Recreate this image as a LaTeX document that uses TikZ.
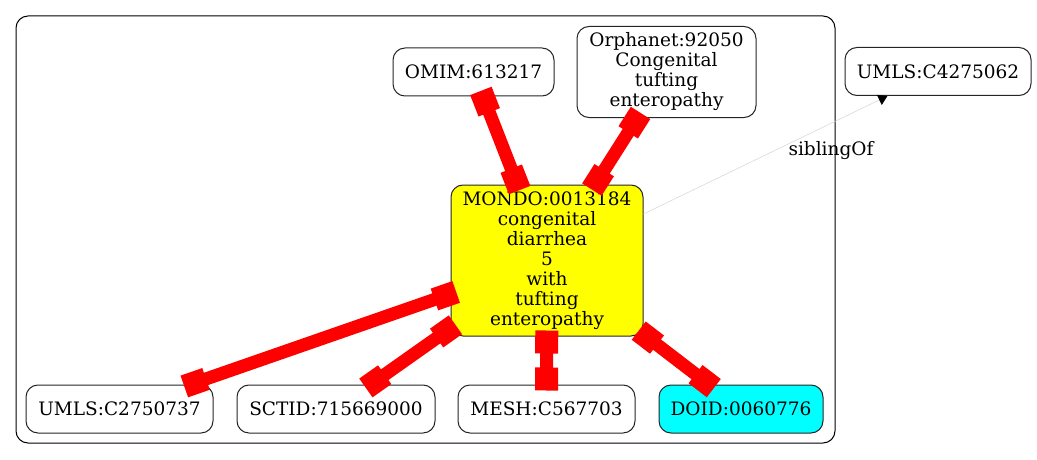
\documentclass[tikz,border=0pt]{standalone}
\usepackage{fontspec}
\setmainfont{DejaVu Serif}
\usetikzlibrary{arrows.meta}
\definecolor{gvyellow}{RGB}{255,255,0}
\definecolor{gvcyan}{RGB}{0,255,255}
\definecolor{gvred}{RGB}{255,0,0}
\newcommand\myfont{\fontsize{18.5}{20}\selectfont}
\begin{document}
\begin{tikzpicture}[x=1pt,y=-1pt,
  box/.style={draw=black!85, line width=1pt, rounded corners=12pt, inner sep=0pt, align=center, font=\myfont, fill=white},
  redge/.style={draw=gvred, line width=13pt, {Square[length=23pt,width=23pt]}-{Square[length=23pt,width=23pt]}, shorten <=-6pt, shorten >=-6pt},
  sib/.style={draw=black!15, line width=0.6pt, -{Triangle[length=9pt,width=11pt,color=black]}},
  lbl/.style={inner sep=0pt, font=\myfont}]
\useasboundingbox (0,0) rectangle (1037,460);
\node[lbl] (sl) at (831,151) {siblingOf};
\node[draw=black, line width=1pt, rounded corners=12pt, minimum width=819pt, minimum height=427pt, inner sep=0pt] (cluster) at (425.5,229.5) {};
\node[box, minimum width=161pt, minimum height=48pt] (omim) at (473.5,72) {OMIM:613217};
\node[box, minimum width=179pt, minimum height=91pt] (orpha) at (666.5,72) {Orphanet:92050\\Congenital\\tufting\\enteropathy};
\node[box, fill=gvyellow, minimum width=192pt, minimum height=151pt] (mondo) at (547,260.5) {MONDO:0013184\\congenital\\diarrhea\\5\\with\\tufting\\enteropathy};
\node[box, minimum width=186pt, minimum height=48pt] (umlsb) at (938,71.5) {UMLS:C4275062};
\node[box, minimum width=187pt, minimum height=48pt] (umlsa) at (119.5,409) {UMLS:C2750737};
\node[box, minimum width=198pt, minimum height=48pt] (sctid) at (336,409) {SCTID:715669000};
\node[box, minimum width=177pt, minimum height=48pt] (mesh) at (546.5,409) {MESH:C567703};
\node[box, fill=gvcyan, minimum width=164pt, minimum height=48pt] (doid) at (741,409) {DOID:0060776};
\draw[sib] (mondo) -- (umlsb);
\draw[redge] (omim) -- (mondo);
\draw[redge] (orpha) -- (mondo);
\draw[redge] (mondo) -- (umlsa);
\draw[redge] (mondo) -- (sctid);
\draw[redge] (mondo) -- (mesh);
\draw[redge] (mondo) -- (doid);
\end{tikzpicture}
\end{document}
